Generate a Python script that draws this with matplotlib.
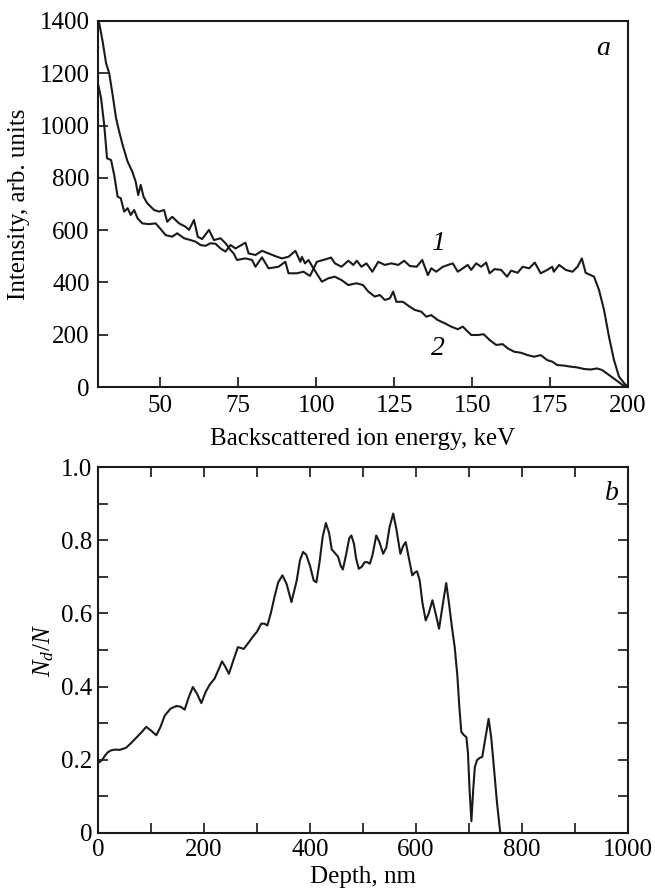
import matplotlib
matplotlib.use("Agg")
import matplotlib.pyplot as plt
import numpy as np

plt.rcParams['font.family'] = ['Liberation Serif', 'DejaVu Serif']
plt.rcParams['mathtext.fontset'] = 'custom'
plt.rcParams['mathtext.rm'] = 'Liberation Serif'
plt.rcParams['mathtext.it'] = 'Liberation Serif:italic'
plt.rcParams['font.size'] = 18

# --- panel a: RBS spectra ---
energy_1 = [30.4, 31.5, 32.6, 33.6, 34.7, 35.8, 36.8, 37.9, 39.5, 41.0, 42.1, 42.9,
            43.7, 44.6, 45.8, 47.4, 48.0, 49.6, 51.2, 52.2, 53.8, 56.0, 58.1, 59.2,
            60.8, 62.0, 63.4, 65.6, 67.2, 69.3, 70.9, 72.5, 73.5, 74.6, 77.3, 79.4,
            80.5, 82.6, 84.7, 87.9, 90.1, 91.1, 93.8, 95.9, 98.0, 100.2, 102.3, 104.8,
            106.0, 108.1, 110.3, 111.9, 113.0, 114.5, 116.1, 118.0, 119.9, 122.0, 124.1,
            126.3, 128.2, 130.0, 132.2, 134.0, 135.8, 136.9, 138.5, 140.6, 143.8, 145.4,
            147.0, 148.6, 149.7, 151.3, 152.9, 154.5, 155.6, 157.2, 159.3, 161.2, 162.5,
            164.6, 166.2, 168.3, 170.1, 172.0, 174.1, 175.7, 176.2, 177.9, 180.0, 182.2,
            183.8, 185.2, 186.4, 189.1, 190.7, 192.3, 193.9, 195.5, 197.1, 198.8, 200.0]
counts_1 = [1391, 1321, 1238, 1200, 1117, 1028, 977, 926, 862, 824, 785, 734,
            773, 728, 703, 684, 677, 671, 677, 632, 651, 626, 613, 601,
            639, 575, 566, 601, 562, 569, 550, 524, 511, 486, 492, 486,
            460, 496, 454, 460, 479, 435, 435, 441, 425, 479, 486, 495,
            473, 460, 483, 467, 483, 460, 473, 441, 479, 467, 473,
            467, 483, 463, 460, 486, 428, 454, 441, 460, 473, 441,
            454, 467, 448, 473, 460, 476, 435, 451, 448, 422, 445,
            437, 460, 454, 476, 435, 448, 460, 441, 467, 448, 441,
            460, 492, 437, 422, 371, 295, 192, 103, 40, 14, 0]

energy_2 = [30.1, 31.0, 32.0, 32.9, 34.2, 35.2, 36.3, 37.3, 38.4, 39.5, 40.5, 41.6,
            42.7, 44.2, 46.4, 48.5, 50.1, 51.7, 53.8, 55.4, 57.6, 59.7, 61.3, 62.9,
            64.5, 66.1, 67.7, 69.3, 70.9, 72.5, 74.1, 77.3, 78.3, 80.5, 82.6, 84.7,
            87.0, 89.0, 91.1, 93.3, 94.9, 95.4, 96.4, 97.5, 99.1, 101.8, 103.9, 106.0,
            108.1, 110.3, 112.9, 115.0, 116.7, 118.8, 120.4, 122.0, 123.6, 124.7, 125.7,
            127.8, 130.0, 131.6, 133.7, 135.3, 136.9, 139.0, 141.2, 143.3, 145.4, 147.0,
            148.6, 149.7, 151.9, 153.7, 155.6, 157.7, 159.8, 161.4, 163.5, 165.7, 167.8,
            169.9, 172.0, 174.1, 175.7, 177.3, 179.4, 181.6, 183.7, 185.9, 188.0, 190.1,
            191.7, 193.9, 196.1, 198.2, 200.0]
counts_2 = [1155, 1104, 1002, 875, 868, 811, 728, 722, 671, 684, 658, 677,
            645, 626, 623, 626, 604, 581, 575, 588, 569, 562, 556, 543,
            540, 550, 548, 530, 518, 543, 530, 552, 511, 505, 521, 511,
            500, 492, 498, 521, 479, 498, 473, 486, 454, 403, 416, 422,
            409, 390, 397, 390, 365, 346, 352, 333, 339, 365, 326,
            326, 307, 295, 288, 269, 275, 256, 244, 231, 221, 231,
            212, 199, 199, 202, 180, 161, 164, 148, 135, 131, 122,
            116, 122, 103, 97, 84, 82, 78, 75, 69, 67, 71,
            65, 46, 27, 8, 0]

# --- panel b: defect profile ---
depth = [0, 3, 8, 12.6, 18, 25, 33, 41, 53, 62, 72, 82, 91, 100, 110, 118, 126, 137,
         148, 156, 163.5, 171, 179, 187, 195, 203, 211, 220, 227, 234, 240, 247, 255,
         264, 275, 284, 292, 300, 308, 314, 319.5, 326, 333, 340, 348, 356, 365, 375,
         381, 387, 393, 400, 407, 412, 418, 424, 430, 436, 441, 447, 453, 458, 462,
         468, 474, 478, 483, 487, 492, 498, 503, 508, 513, 518, 525, 531, 538, 544,
         550, 557, 563, 570.5, 576, 580.6, 586, 593, 598, 602, 607, 612, 618.3, 624,
         631, 637, 643.5, 650, 657, 662, 668, 673, 678, 682, 685.5, 690, 695, 698,
         701, 704.5, 708, 711, 715, 720, 725, 731, 737, 742, 748, 753, 759]
nd_ratio = [0.192, 0.194, 0.20, 0.21, 0.22, 0.226, 0.228, 0.227, 0.233, 0.245, 0.26,
            0.275, 0.29, 0.28, 0.267, 0.29, 0.321, 0.34, 0.347, 0.345, 0.337, 0.37,
            0.399, 0.38, 0.355, 0.385, 0.406, 0.422, 0.445, 0.469, 0.455, 0.435, 0.47,
            0.508, 0.503, 0.52, 0.536, 0.55, 0.572, 0.572, 0.567, 0.6, 0.645, 0.685,
            0.704, 0.68, 0.631, 0.69, 0.745, 0.768, 0.76, 0.73, 0.69, 0.685, 0.74,
            0.81, 0.847, 0.82, 0.775, 0.765, 0.755, 0.73, 0.72, 0.76, 0.805, 0.813,
            0.79, 0.75, 0.722, 0.728, 0.74, 0.74, 0.736, 0.76, 0.813, 0.795, 0.763,
            0.78, 0.835, 0.873, 0.83, 0.763, 0.785, 0.795, 0.755, 0.704, 0.712, 0.715,
            0.69, 0.63, 0.581, 0.6, 0.636, 0.6, 0.558, 0.62, 0.683, 0.63, 0.56, 0.508,
            0.43, 0.34, 0.276, 0.268, 0.262, 0.22, 0.12, 0.032, 0.12, 0.18, 0.199,
            0.205, 0.208, 0.26, 0.312, 0.26, 0.162, 0.08, 0.0]

fig = plt.figure(figsize=(6.55, 8.93), dpi=100)
ax1 = fig.add_axes([0.1496, 0.5666, 0.8092, 0.4099])
ax2 = fig.add_axes([0.1496, 0.0672, 0.8092, 0.4098])

line_kw = dict(color='#1a1a1a', lw=1.5, solid_joinstyle='round')

ax1.plot(energy_1, counts_1, **line_kw)
ax1.plot(energy_2, counts_2, **line_kw)
ax1.set_xlim(30, 200)
ax1.set_ylim(0, 1400)
ax1.set_xticks(np.arange(50, 201, 25))
ax1.set_yticks(np.arange(0, 1401, 200))
ax1.set_xlabel("Backscattered ion energy, keV", labelpad=8)
ax1.set_ylabel("Intensity, arb. units", labelpad=7)
ax1.tick_params(direction='in', length=7, width=1.1, pad=6)
ax1.text(0.953, 0.926, "a", transform=ax1.transAxes, style='italic',
         ha='center', va='center', fontsize=20)
ax1.text(139, 550, "1", style='italic', ha='center', va='center', fontsize=20)
ax1.text(139, 149, "2", style='italic', ha='center', va='center', fontsize=20)

ax2.plot(depth, nd_ratio, **line_kw)
ax2.set_xlim(0, 1000)
ax2.set_ylim(0, 1.0)
xt = np.arange(0, 1001, 100)
ax2.set_xticks(xt)
ax2.set_xticklabels([str(v) if v % 200 == 0 else "" for v in xt])
yt = np.arange(0, 11) / 10
ax2.set_yticks(yt)
ax2.set_yticklabels(["0" if i == 0 else ("%.1f" % v if i % 2 == 0 else "")
                     for i, v in enumerate(yt)])
ax2.set_xlabel("Depth, nm", labelpad=4)
ax2.set_ylabel("$N_d/N$", labelpad=4)
ax2.tick_params(direction='in', length=7, width=1.1, top=True, right=True, pad=4)
ax2.text(0.969, 0.929, "b", transform=ax2.transAxes, style='italic',
         ha='center', va='center', fontsize=20)

for ax in (ax1, ax2):
    for sp in ax.spines.values():
        sp.set_linewidth(1.5)
        sp.set_color('#1a1a1a')

fig.savefig("out.png", dpi=100)
